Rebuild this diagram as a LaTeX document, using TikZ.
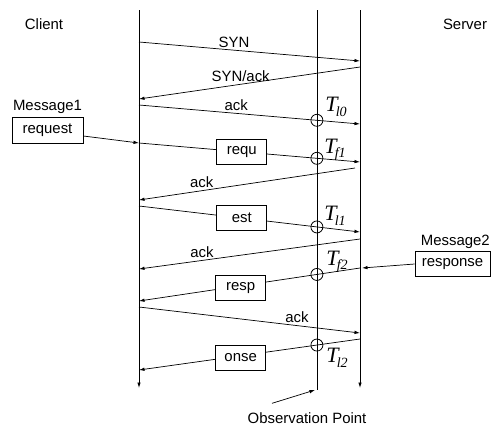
\documentclass[tikz,border=0pt]{standalone}
\usepackage{fontspec}
\setmainfont{Liberation Sans}
\newfontfamily\tfont{Liberation Serif}
\usepackage{tikz}
\usetikzlibrary{arrows.meta,positioning}

\tikzset{
  msg/.style={-{Latex[length=1.1mm,width=0.7mm]}, line width=0.4pt},
  life/.style={line width=0.45pt},
  pkt/.style={draw, fill=white, line width=0.4pt, minimum width=1cm, minimum height=0.5cm, inner sep=0pt},
  obs/.style={draw, circle, line width=0.45pt, minimum size=0.24cm, inner sep=0pt},
  lab/.style={above, inner sep=1.5pt},
}
\newcommand{\tlab}[1]{{\tfont\itshape\fontsize{12.5}{12.5}\selectfont T\kern-0.08em\raisebox{-0.45ex}{\fontsize{8}{8}\selectfont #1}}}

\begin{document}
\begin{tikzpicture}[x=0.02cm, y=-0.02cm, font=\fontsize{8.5}{10}\selectfont]
            \useasboundingbox (0,0) rectangle (491,427);

            % lifelines
            \coordinate (ctop) at (139,10);  \coordinate (cbot) at (139,388);
            \coordinate (otop) at (317,10);  \coordinate (obot) at (317,390);
            \coordinate (stop) at (360,10);  \coordinate (sbot) at (360,388);
            \draw[life, -{Latex[length=1.1mm,width=0.7mm]}] (ctop) -- (cbot);
            \draw[life, -{Latex[length=1.1mm,width=0.7mm]}] (stop) -- (sbot);
            \draw[life] (otop) -- (obot);

            \node (client) at (44,24) {Client};
            \node (server) at (465,24) {Server};

            % message ends on client (c) and server (s)
            \foreach \n/\yc/\ys in {1/42/61, 2/99/67, 3/105/124, 4/143/162, 5/200/168,
                                    6/206/232, 7/269/239, 8/301/268, 9/307/333, 10/370/339}
            {
              \coordinate (c\n) at (139,\yc);
              \coordinate (s\n) at (360,\ys);
            }
            \coordinate (s5) at (355,168);
            \coordinate (r9) at (362,268);

            % handshake
            \draw[msg] (c1) -- (s1) node[lab, pos=.43] (syn) {SYN};
            \draw[msg] (s2) -- (c2) node[lab, pos=.54] (synack) {SYN/ack};
            \draw[msg] (c3) -- (s3) node[lab, pos=.44] (ack1) {ack}
                                    node[obs, pos=.805] (o1) {};

            % request
            \node[pkt, minimum width=1.42cm, minimum height=0.52cm] (request) at (47.5,130) {request};
            \node[above=-2pt of request] (msg1) {Message1};
            \draw[msg] ([yshift=-0.12cm]request.east) -- (c4);
            \draw[msg] (c4) -- (s4) node[pkt, pos=.465] (requ) {requ}
                                    node[obs, pos=.805] (o2) {};
            \draw[msg] (s5) -- (c5) node[lab, pos=.71] (ack2) {ack};
            \draw[msg] (c6) -- (s6) node[pkt, pos=.465] (est) {est}
                                    node[obs, pos=.805] (o3) {};
            \draw[msg] (s7) -- (c7) node[lab, pos=.715] (ack3) {ack};

            % response
            \node[pkt, minimum width=1.5cm] (response) at (452.5,264) {response};
            \node[above=-2pt of response.north west, anchor=south west] (msg2) {Message2};
            \draw[msg] (response.west) -- (r9);
            \draw[msg] (s8) -- (c8) node[pkt, pos=.54, yshift=-0.04cm] (resp) {resp}
                                    node[obs, pos=.195] (o4) {};
            \draw[msg] (c9) -- (s9) node[lab, pos=.715] (ack4) {ack};
            \draw[msg] (s10) -- (c10) node[pkt, pos=.54, yshift=-0.04cm] (onse) {onse}
                                      node[obs, pos=.195] (o5) {};

            % observation times
            \node (tl0) at (336,107) {\tlab{l0}};
            \node (tf1) at (335,150) {\tlab{f1}};
            \node (tl1) at (335,216) {\tlab{l1}};
            \node (tf2) at (337,262) {\tlab{f2}};
            \node (tl2) at (337,358) {\tlab{l2}};

            \node (obsp) at (307,418) {Observation Point};
            \draw[msg] ([xshift=-0.7cm, yshift=0.06cm]obsp.north) -- ([xshift=-0.04cm]obot);
\end{tikzpicture}
\end{document}
